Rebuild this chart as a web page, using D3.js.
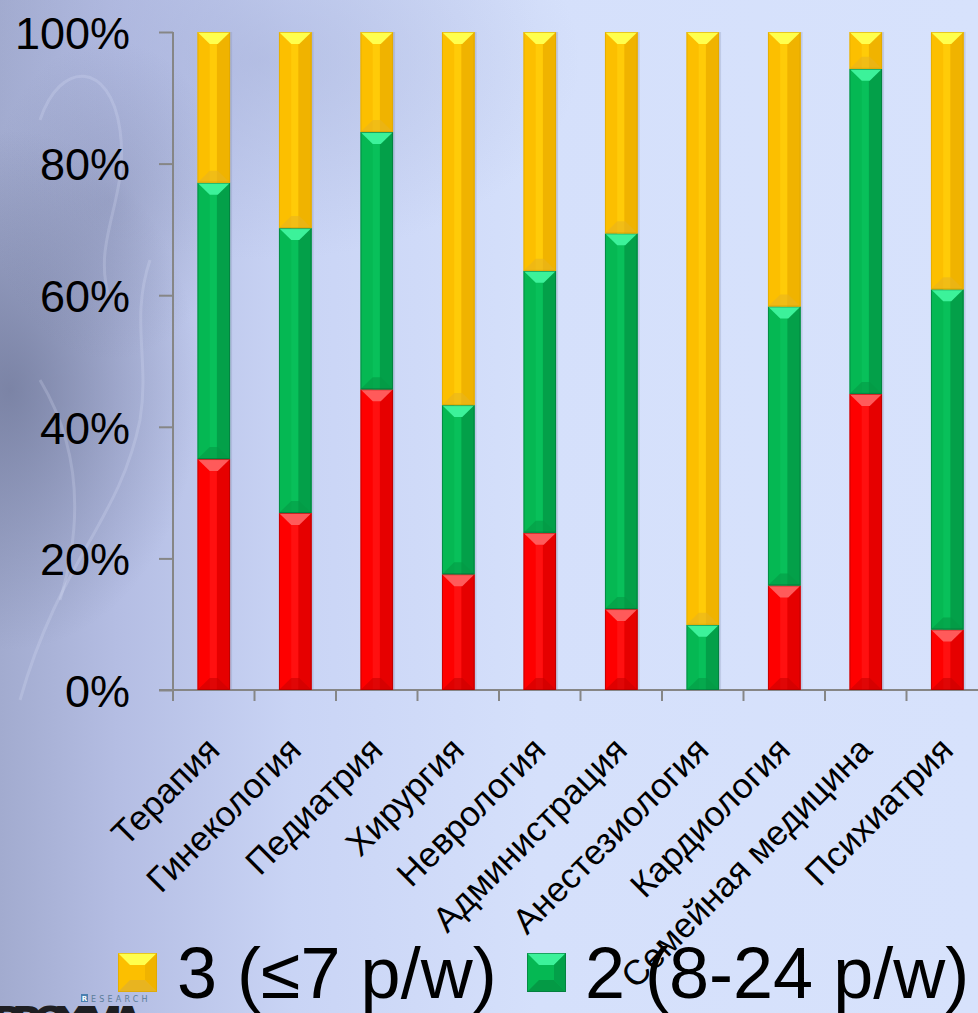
<!DOCTYPE html>
<html><head><meta charset="utf-8">
<script src="https://cdn.jsdelivr.net/npm/d3@7/dist/d3.min.js"></script>
<style>html,body{margin:0;padding:0;overflow:hidden;background:#d6e1fb}svg{display:block}</style>
</head><body>
<script>
const categories = ["Терапия","Гинекология","Педиатрия","Хирургия","Неврология","Администрация","Анестезиология","Кардиология","Семейная медицина","Психиатрия"];
const series1 = [35.1, 26.9, 45.7, 17.6, 23.9, 12.3, 0.0, 15.9, 45.0, 9.2];   // red
const series2 = [42.0, 43.3, 39.1, 25.7, 39.8, 57.1, 9.9, 42.4, 49.4, 51.7];  // green
const series3 = [22.9, 29.8, 15.2, 56.7, 36.3, 30.6, 90.1, 41.7, 5.6, 39.1];  // yellow
const seriesKeys = ["s1","s2","s3"];
const legendLabels = ["3 (≤7 p/w)", "2 (8-24 p/w)"];
const yTicks = [0, 0.2, 0.4, 0.6, 0.8, 1.0];

const W = 978, H = 1013;
const svg = d3.select("body").append("svg").attr("width", W).attr("height", H);
const defs = svg.append("defs");

// background
const bg = defs.append("linearGradient").attr("id","bg").attr("x1","0").attr("x2","1").attr("y1","0").attr("y2","0");
[[0,"#a2abcf"],[0.12,"#b4bde3"],[0.3,"#c9d4f5"],[0.55,"#d5e0fb"],[1,"#d7e2fc"]].forEach(s=>bg.append("stop").attr("offset",s[0]).attr("stop-color",s[1]));
const blob = defs.append("radialGradient").attr("id","blob").attr("cx","0.5").attr("cy","0.5").attr("r","0.5");
blob.append("stop").attr("offset",0).attr("stop-color","#6a7293").attr("stop-opacity",0.7);
blob.append("stop").attr("offset",1).attr("stop-color","#6a7293").attr("stop-opacity",0);
const soft = defs.append("radialGradient").attr("id","soft").attr("cx","0.5").attr("cy","0.5").attr("r","0.5");
soft.append("stop").attr("offset",0).attr("stop-color","#9ea8d2").attr("stop-opacity",0.45);
soft.append("stop").attr("offset",1).attr("stop-color","#9ea8d2").attr("stop-opacity",0);
svg.append("rect").attr("width",W).attr("height",H).attr("fill","url(#bg)");
svg.append("ellipse").attr("cx",260).attr("cy",60).attr("rx",320).attr("ry",200).attr("fill","url(#soft)");
svg.append("ellipse").attr("cx",10).attr("cy",390).attr("rx",190).attr("ry",260).attr("fill","url(#blob)");
svg.append("ellipse").attr("cx",110).attr("cy",200).attr("rx",120).attr("ry",160).attr("fill","url(#blob)").attr("opacity",0.45);
// faint figure strokes
const fig = svg.append("g").attr("fill","none").attr("stroke","#e4eaff").attr("stroke-opacity",0.2).attr("stroke-width",3);
fig.append("path").attr("d","M40,120 C60,60 110,60 120,130 C130,200 90,240 110,300");
fig.append("path").attr("d","M20,700 C60,560 120,520 140,420 C150,360 130,320 150,260");
fig.append("path").attr("d","M60,600 C90,500 70,430 40,380");

const margin = {left:173, top:32, bottom:690, right:988};
const x = d3.scaleBand().domain(categories).range([margin.left, margin.right]).paddingInner(0.6).paddingOuter(0.3);
const y = d3.scaleLinear().domain([0,1]).range([margin.bottom, margin.top]);

const rows = categories.map((c,i)=>({cat:c, s1:series1[i]/100, s2:series2[i]/100, s3:series3[i]/100}));
const stacked = d3.stack().keys(seriesKeys)(rows);

const palette = {
  s1:{base:"#fe0000", right:"#e60000", center:"#ff1010", top:"#ff5a5a", bot:"#cc0000", edge:"#a40000"},
  s2:{base:"#05b853", right:"#03a049", center:"#08c05a", top:"#3cf29a", bot:"#049a45", edge:"#04703a"},
  s3:{base:"#fcbf00", right:"#f0b300", center:"#ffcb08", top:"#ffff4d", bot:"#e8b420", edge:"#d9a300"}
};

// axes
const gy = svg.append("g").attr("transform",`translate(${margin.left},0)`)
  .call(d3.axisLeft(y).tickValues(yTicks).tickFormat(d3.format(".0%")).tickSize(14).tickPadding(29));
gy.select(".domain").attr("stroke","#868686").attr("stroke-width",2).attr("d",`M0,${margin.top}V${margin.bottom}`);
gy.selectAll(".tick line").attr("stroke","#868686").attr("stroke-width",2);
gy.selectAll(".tick text").attr("font-family","'Liberation Sans', Arial, sans-serif").attr("font-size",45).attr("fill","#000").attr("dy","0.36em");

const step = x.step();
const boundaries = categories.map(c => x(c) - (step - x.bandwidth())/2).concat([x(categories[categories.length-1]) + x.bandwidth() + (step - x.bandwidth())/2]);
svg.append("line").attr("x1",margin.left-14).attr("x2",W).attr("y1",y(0)).attr("y2",y(0)).attr("stroke","#868686").attr("stroke-width",2);
svg.append("g").selectAll("line").data(boundaries).join("line")
  .attr("x1",d=>d).attr("x2",d=>d).attr("y1",y(0)).attr("y2",y(0)+11).attr("stroke","#868686").attr("stroke-width",2);

// bars
const bw = x.bandwidth();
stacked.forEach(layer=>{
  const p = palette[layer.key];
  const g = svg.append("g");
  layer.forEach(seg=>{
    const x0 = x(seg.data.cat), yt = y(seg[1]), yb = y(seg[0]);
    const h = yb - yt;
    if (h <= 0.5) return;
    const gg = g.append("g");
    gg.append("rect").attr("x",x0+2).attr("y",yt).attr("width",bw).attr("height",h).attr("fill","#7d86a8").attr("opacity",0.25);
    gg.append("rect").attr("x",x0).attr("y",yt).attr("width",bw).attr("height",h).attr("fill",p.base);
    gg.append("rect").attr("x",x0+bw/2+3).attr("y",yt).attr("width",bw/2-3).attr("height",h).attr("fill",p.right);
    gg.append("rect").attr("x",x0+bw/2-4).attr("y",yt).attr("width",7).attr("height",h).attr("fill",p.center);
    const d = Math.min(12, h/2);
    const inset = bw/2 - 4;
    gg.append("path").attr("d",`M${x0},${yt}L${x0+bw},${yt}L${x0+bw-inset},${yt+d}L${x0+inset},${yt+d}Z`).attr("fill",p.top);
    gg.append("path").attr("d",`M${x0},${yb}L${x0+bw},${yb}L${x0+bw-inset},${yb-d}L${x0+inset},${yb-d}Z`).attr("fill",p.bot).attr("opacity",0.6);
    gg.append("rect").attr("x",x0+0.5).attr("y",yt+0.5).attr("width",bw-1).attr("height",h-1).attr("fill","none").attr("stroke",p.edge).attr("stroke-width",1).attr("stroke-opacity",0.6);
  });
});

// category labels
svg.append("g").selectAll("text").data(categories).join("text")
  .attr("transform",c=>`translate(${x(c)+bw/2+8},752) rotate(-45)`)
  .attr("text-anchor","end")
  .attr("font-family","'Liberation Sans', Arial, sans-serif").attr("font-size",35).attr("fill","#000")
  .text(c=>c);

// legend
const legendItems = [{key:"s3", label:legendLabels[0], mx:118, tx:177},{key:"s2", label:legendLabels[1], mx:527, tx:585}];
legendItems.forEach(it=>{
  const p = palette[it.key];
  const s = 39, my = 953;
  const lg = svg.append("g");
  lg.append("rect").attr("x",it.mx).attr("y",my).attr("width",s).attr("height",s).attr("fill",p.base);
  lg.append("path").attr("d",`M${it.mx},${my}L${it.mx+s},${my}L${it.mx+s-12},${my+12}L${it.mx+12},${my+12}Z`).attr("fill",p.top);
  lg.append("path").attr("d",`M${it.mx+s},${my}L${it.mx+s},${my+s}L${it.mx+s-12},${my+s-12}L${it.mx+s-12},${my+12}Z`).attr("fill",p.right);
  lg.append("path").attr("d",`M${it.mx},${my+s}L${it.mx+s},${my+s}L${it.mx+s-12},${my+s-12}L${it.mx+12},${my+s-12}Z`).attr("fill",p.bot);
  lg.append("rect").attr("x",it.mx+0.5).attr("y",my+0.5).attr("width",s-1).attr("height",s-1).attr("fill","none").attr("stroke",p.edge).attr("stroke-opacity",0.6);
  lg.append("text").attr("x",it.tx).attr("y",998).attr("font-family","'Liberation Sans', Arial, sans-serif").attr("font-size",72).attr("fill","#000").text(it.label);
});

// logo
const logo = svg.append("g");
logo.append("rect").attr("x",81).attr("y",994).attr("width",7).attr("height",8).attr("fill","#4a7fb0");
logo.append("text").attr("x",84.5).attr("y",1001).attr("text-anchor","middle").attr("font-family","'DejaVu Sans', sans-serif").attr("font-size",7).attr("font-weight","bold").attr("fill","#fff").text("R");
logo.append("text").attr("x",91).attr("y",1001.5).attr("font-family","'DejaVu Sans', sans-serif").attr("font-size",8).attr("letter-spacing",3.2).attr("fill","#5b7d9a").text("ESEARCH");
logo.append("text").attr("x",-8).attr("y",1037).attr("font-family","'DejaVu Sans', sans-serif").attr("font-weight","bold").attr("font-size",42).attr("textLength",152).attr("fill","#1e1e22").text("PROXIMA");
</script>
</body></html>
